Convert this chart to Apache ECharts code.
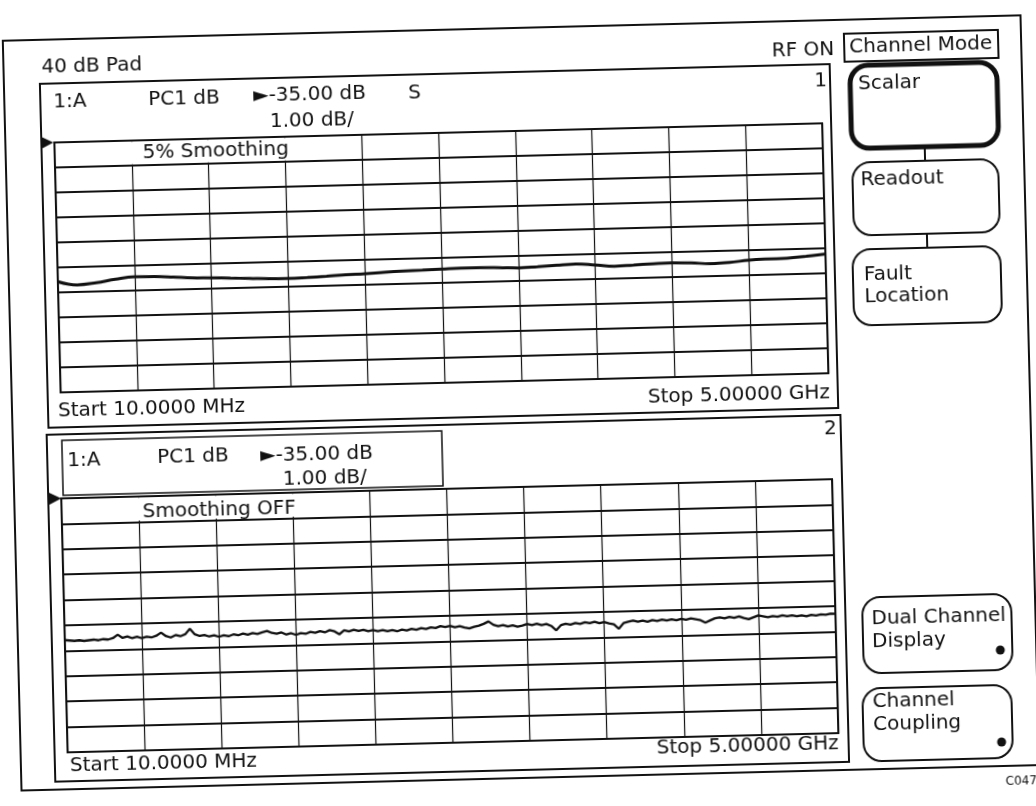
<!DOCTYPE html>
<html><head><meta charset="utf-8">
<script src="https://cdn.jsdelivr.net/npm/echarts@6/dist/echarts.min.js"></script>
<style>
html,body{margin:0;padding:0;background:#fff;overflow:hidden;}
#chart{position:absolute;left:0;top:0;width:1036px;height:806px;transform:rotate(-1.43deg);transform-origin:518px 403px;}
</style></head><body><div id="chart"></div>
<script>
// ---- data ----
const START_MHZ = 10;
const STOP_MHZ = 5000;
const REF_LEVEL_DB = -35;
const SCALE_DB_PER_DIV = 1;
const Y_DIVISIONS = 10;
const X_GRID_MHZ = [10, 509, 1008, 1507, 2006, 2505, 3004, 3503, 4002, 4501, 5000];

// Channel 1, 5% smoothing (dB)
const smoothedTraceDb = [
  -40.57,-40.72,-40.65,-40.53,-40.45,-40.46,-40.50,-40.55,-40.57,-40.60,
  -40.63,-40.66,-40.67,-40.65,-40.62,-40.58,-40.56,-40.52,-40.49,-40.47,
  -40.45,-40.43,-40.43,-40.45,-40.48,-40.45,-40.41,-40.38,-40.44,-40.51,
  -40.48,-40.45,-40.43,-40.45,-40.50,-40.47,-40.40,-40.37,-40.36,-40.30,
  -40.23
];

// Channel 2, smoothing OFF (dB)
const rawTraceDb = [
  -40.58,-40.60,-40.62,-40.60,-40.63,-40.61,-40.59,-40.62,-40.58,-40.60,
  -40.55,-40.42,-40.55,-40.50,-40.57,-40.52,-40.58,-40.53,-40.56,-40.50,
  -40.38,-40.52,-40.58,-40.49,-40.54,-40.47,-40.26,-40.48,-40.55,-40.52,
  -40.58,-40.54,-40.60,-40.55,-40.59,-40.52,-40.56,-40.50,-40.55,-40.49,
  -40.53,-40.47,-40.42,-40.50,-40.54,-40.49,-40.58,-40.53,-40.60,-40.54,
  -40.57,-40.50,-40.54,-40.48,-40.53,-40.45,-40.50,-40.62,-40.47,-40.52,
  -40.46,-40.51,-40.47,-40.53,-40.49,-40.54,-40.50,-40.55,-40.51,-40.56,
  -40.50,-40.54,-40.48,-40.52,-40.46,-40.50,-40.44,-40.47,-40.40,-40.44,
  -40.40,-40.46,-40.42,-40.48,-40.52,-40.46,-40.42,-40.35,-40.26,-40.40,
  -40.46,-40.42,-40.48,-40.44,-40.50,-40.46,-40.40,-40.45,-40.40,-40.46,
  -40.42,-40.50,-40.68,-40.48,-40.43,-40.47,-40.41,-40.45,-40.39,-40.43,
  -40.38,-40.44,-40.40,-40.46,-40.50,-40.68,-40.46,-40.41,-40.37,-40.42,
  -40.38,-40.43,-40.37,-40.41,-40.36,-40.40,-40.36,-40.40,-40.35,-40.39,
  -40.34,-40.38,-40.42,-40.52,-40.44,-40.36,-40.33,-40.37,-40.32,-40.36,
  -40.31,-40.38,-40.43,-40.36,-40.29,-40.33,-40.37,-40.33,-40.36,-40.31,
  -40.35,-40.32,-40.36,-40.33,-40.37,-40.32,-40.35,-40.31,-40.33,-40.29,
  -40.30
];

// ---- sweep frequencies (instrument sweep points, start..stop) ----
function withSweep(values) {
  const n = values.length;
  return values.map((v, i) => [START_MHZ + (STOP_MHZ - START_MHZ) * i / (n - 1), v]);
}

const FONT = 'DejaVu Sans';
const INK = '#111';
const G1 = {left: 61, top: 131, width: 768, height: 250};
const G2 = {left: 59, top: 487, width: 771, height: 254};

function txt(x, y, s, size, align) {
  return {type: 'text', x: x, y: y, z: 30, silent: true,
    style: {text: s, font: (size || 20) + 'px "' + FONT + '"', fill: INK,
      textAlign: align || 'left', align: align || 'left',
      textVerticalAlign: 'middle', verticalAlign: 'middle'}};
}
function box(x, y, w, h, lw, r, fill) {
  return {type: 'rect', z: 25, silent: true, shape: {x: x, y: y, width: w, height: h, r: r || 0},
    style: {fill: fill || 'none', stroke: INK, lineWidth: lw || 2}};
}
function mask(x, y, w, h) {
  return {type: 'rect', z: 15, silent: true, shape: {x: x, y: y, width: w, height: h},
    style: {fill: '#fff', stroke: null}};
}
function seg(x1, y1, x2, y2, lw) {
  return {type: 'line', z: 25, silent: true, shape: {x1: x1, y1: y1, x2: x2, y2: y2},
    style: {stroke: INK, lineWidth: lw || 2}};
}
function tri(x, y) {
  return {type: 'polygon', z: 25, silent: true, shape: {points: [[x, y - 6], [x + 12, y], [x, y + 6]]},
    style: {fill: INK}};
}
function dot(x, y) {
  return {type: 'circle', z: 25, silent: true, shape: {cx: x, cy: y, r: 4.5}, style: {fill: INK}};
}

const chart = echarts.init(document.getElementById('chart'), null, {renderer: 'canvas'});

const axisX = i => ({
  type: 'value', gridIndex: i, min: START_MHZ, max: STOP_MHZ,
  axisLine: {show: false},
  axisTick: {show: false, customValues: X_GRID_MHZ},
  axisLabel: {show: false, customValues: X_GRID_MHZ},
  splitLine: {show: true, lineStyle: {color: INK, width: 1.2}}
});
const axisY = i => ({
  type: 'value', gridIndex: i,
  min: REF_LEVEL_DB - Y_DIVISIONS * SCALE_DB_PER_DIV, max: REF_LEVEL_DB,
  interval: SCALE_DB_PER_DIV,
  axisLine: {show: false}, axisTick: {show: false}, axisLabel: {show: false},
  splitLine: {show: true, lineStyle: {color: INK, width: 2}}
});

const option = {
  backgroundColor: '#fff',
  animation: false,
  grid: [G1, G2].map(g => Object.assign({show: true, borderColor: INK, borderWidth: 2,
    backgroundColor: 'transparent', containLabel: false}, g)),
  xAxis: [axisX(0), axisX(1)],
  yAxis: [axisY(0), axisY(1)],
  series: [
    {type: 'line', xAxisIndex: 0, yAxisIndex: 0, data: withSweep(smoothedTraceDb),
      symbol: 'none', smooth: 0.4, lineStyle: {color: INK, width: 3}, z: 5},
    {type: 'line', xAxisIndex: 1, yAxisIndex: 1, data: withSweep(rawTraceDb),
      symbol: 'none', smooth: false, lineStyle: {color: INK, width: 2.3}, z: 5}
  ],
  graphic: [
    // outer frame
    box(12, 28, 1018, 750, 2),
    txt(50, 56, '40 dB Pad'),
    txt(843, 58, 'RF ON', 20, 'right'),
    box(853, 42, 154, 28, 2),
    txt(858, 56, 'Channel Mode'),

    // panel 1
    box(48, 72, 790, 344, 2),
    txt(61, 91, '1:A'),
    txt(156, 91, 'PC1 dB'),
    txt(261, 90, '\u25BA-35.00 dB'),
    txt(277, 116, '1.00 dB/'),
    txt(416, 91, 'S'),
    txt(835, 89, '1', 20, 'right'),
    tri(48, 131),
    mask(62.5, 132.3, 238, 22.4),
    txt(149, 143.5, '5% Smoothing'),
    txt(58, 400, 'Start 10.0000 MHz'),
    txt(830, 401, 'Stop 5.00000 GHz', 20, 'right'),

    // panel 2
    box(46, 423, 794, 347, 2),
    box(61, 429, 380, 55, 1.5),
    txt(66, 450, '1:A'),
    txt(156, 449, 'PC1 dB'),
    txt(259, 450, '\u25BA-35.00 dB'),
    txt(281, 474, '1.00 dB/'),
    txt(836, 437, '2', 20, 'right'),
    tri(47, 487),
    mask(60.5, 488.3, 240, 22.8),
    txt(140, 502.5, 'Smoothing OFF'),
    txt(61, 755, 'Start 10.0000 MHz'),
    txt(830, 752, 'Stop 5.00000 GHz', 20, 'right'),

    // soft keys
    box(858, 74, 147, 83, 5, 18),
    txt(866, 93, 'Scalar'),
    seg(931, 157, 931, 171, 2),
    box(858, 171, 146, 73, 2, 18),
    txt(866, 189, 'Readout'),
    seg(931, 244, 931, 258, 2),
    box(856, 258, 148, 76, 2, 18),
    txt(867, 284, 'Fault'),
    txt(867, 306, 'Location'),
    box(857, 606, 149, 76, 2, 18),
    txt(866, 628, 'Dual Channel'),
    txt(866, 651, 'Display'),
    dot(994, 662),
    box(855, 697, 149, 73, 2, 18),
    txt(865, 711, 'Channel'),
    txt(865, 734, 'Coupling'),
    dot(993, 754),

    txt(996, 794, 'C047', 12)
  ]
};
chart.setOption(option);
</script></body></html>
